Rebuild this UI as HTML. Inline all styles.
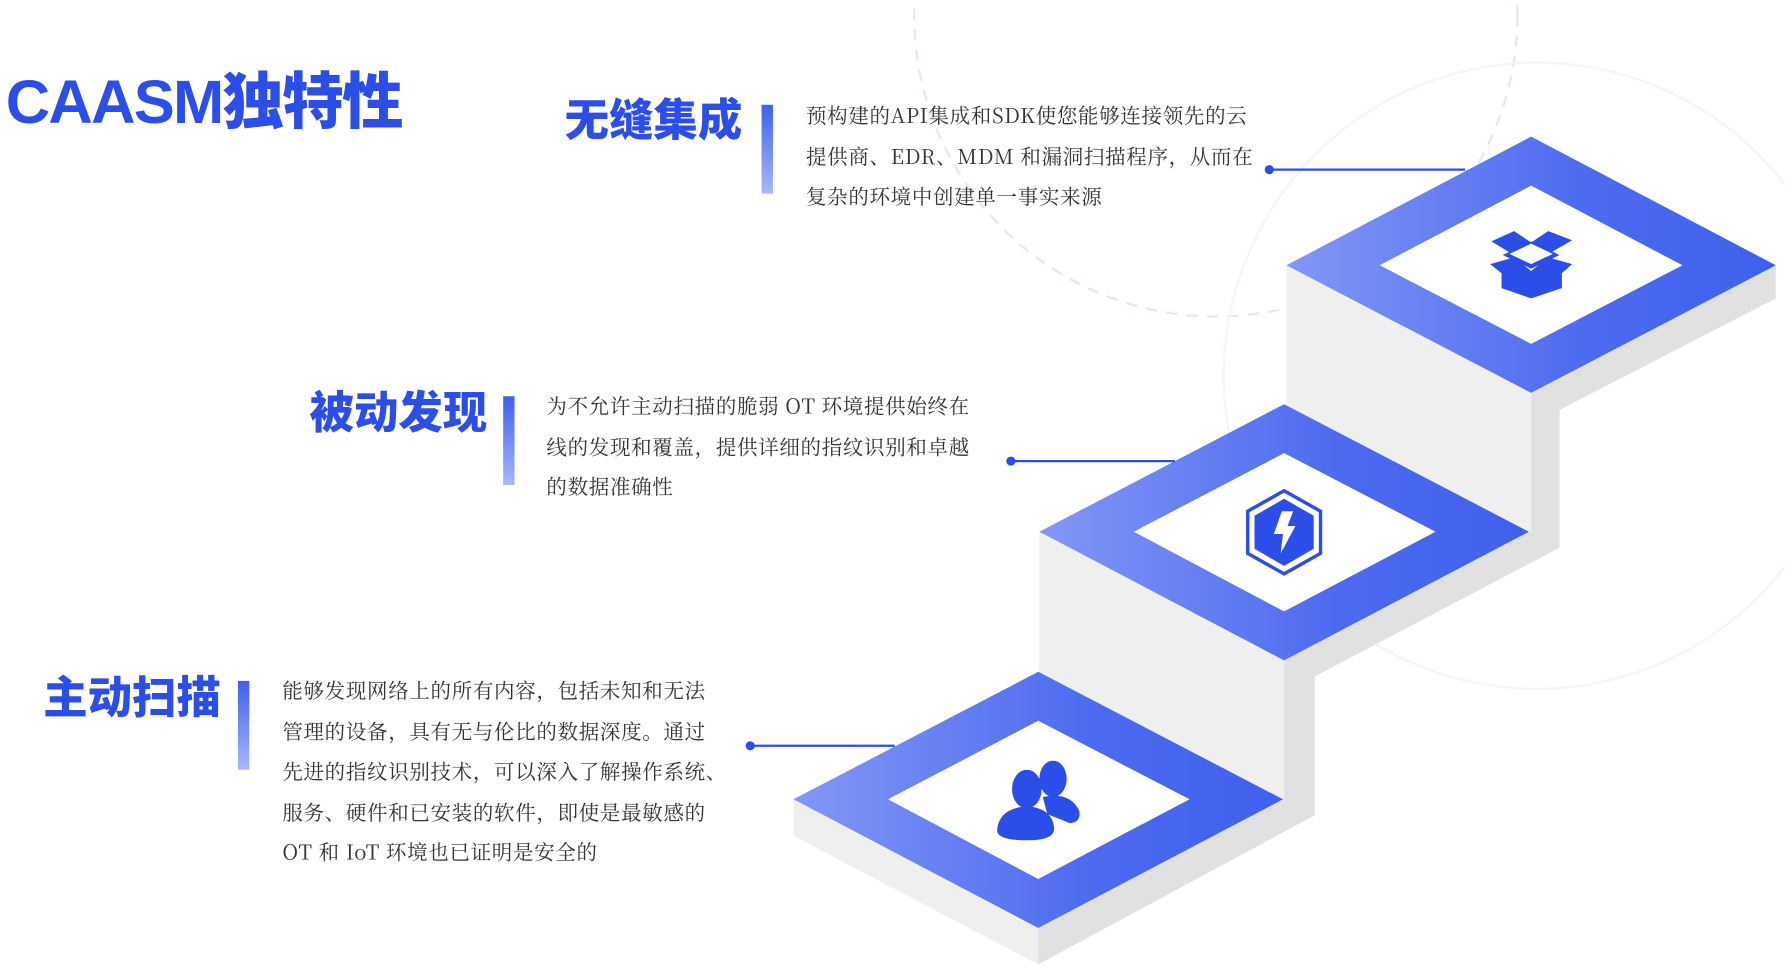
<!DOCTYPE html>
<html><head><meta charset="utf-8"><style>
html,body{margin:0;padding:0;background:#fff;width:1785px;height:969px;overflow:hidden}
#w{position:absolute;left:0;top:0;width:1568px;height:851px;transform:scale(1.13839,1.1386);transform-origin:0 0}
.t{position:absolute;font-family:"Liberation Sans","Noto Sans CJK SC",sans-serif;font-weight:900;color:#2b4de8;white-space:nowrap}
.h{position:absolute;font-family:"Noto Sans CJK SC",sans-serif;font-weight:900;color:#2b4de8;font-size:39px;line-height:46px;white-space:nowrap}
.bar{position:absolute;width:10px;height:78px;background:linear-gradient(#3f5fee,#a9b8f8)}
.p{position:absolute;font-family:"Noto Serif CJK SC","Liberation Serif",serif;font-size:18px;line-height:35.5px;color:#333;white-space:nowrap;letter-spacing:0.6px}
svg{position:absolute;left:0;top:0}
</style></head><body><div id="w">
<svg width="1568" height="851" viewBox="0 0 1568 851">
<defs><linearGradient id="g" x1="0" x2="1" y1="0" y2="0"><stop offset="0" stop-color="#8297f6"/><stop offset="0.6" stop-color="#4d6bef"/><stop offset="1" stop-color="#3f60ee"/></linearGradient></defs>
<circle cx="1068" cy="13" r="265" fill="none" stroke="#e3e6fa" stroke-width="2" stroke-dasharray="10 8"/>
<circle cx="1350" cy="330" r="275" fill="none" stroke="#f3f4fd" stroke-width="2"/>
<line x1="1330" y1="335" x2="1240" y2="430" stroke="#e8ebfa" stroke-width="2" stroke-dasharray="12 10"/>
<polygon points="1130,233 1345,345 1345,494 1130,607" fill="#efefef"/>
<polygon points="1345,345 1560,233 1560,262 1370,360 1370,481 1345,494" fill="#e1e1e1"/>
<polygon points="1345,120 1560,233 1345,345 1130,233" fill="url(#g)"/>
<polygon points="1345,163 1478,233 1345,302 1212,233" fill="#fff"/>
<polygon points="913,467 1128,580 1128,730 913,845" fill="#efefef"/>
<polygon points="1128,580 1343,467 1370,481 1155,594 1155,716 1128,730" fill="#e1e1e1"/>
<polygon points="1128,355 1343,467 1128,580 913,467" fill="url(#g)"/>
<polygon points="1128,398 1261,467 1128,537 996,467" fill="#fff"/>
<polygon points="697,702 912,815 912,847 697,734" fill="#efefef"/>
<polygon points="912,815 1127,702 1155,716 912,847" fill="#e1e1e1"/>
<polygon points="912,590 1127,702 912,815 697,702" fill="url(#g)"/>
<polygon points="912,633 1045,702 912,772 780,702" fill="#fff"/>
<g fill="#2b4de8">
<polygon points="1310,212 1330,203 1345,213 1330,224"/>
<polygon points="1345,213 1360,203 1381,211 1362,222"/>
<polygon points="1320,224 1345,212 1370,224 1345,236"/>
<polygon points="1309,232 1330,226 1345,238 1360,226 1381,232 1372,240 1372,253 1345,262 1319,253 1319,240"/>
</g>
<polygon points="1326,223 1345,214 1364,223 1345,232" fill="#fff"/>
<polygon points="1128,431 1160,449 1160,486 1128,504 1096,486 1096,449" fill="none" stroke="#2b4de8" stroke-width="3"/>
<polygon points="1128,438 1154,453 1154,482 1128,497 1102,482 1102,453" fill="#2b4de8"/>
<polygon points="1126,449 1136,449 1131,462 1138,462 1125,486 1127,469 1119,469" fill="#fff"/>
<g fill="#2b4de8">
<ellipse cx="925" cy="684" rx="12" ry="16"/>
<path d="M916,700 Q940,695 948,712 Q950,722 940,723 L920,715 Z"/>
<ellipse cx="902" cy="693" rx="13" ry="17"/>
<path d="M876,728 Q878,710 902,708 Q925,710 926,728 Q926,738 903,738 Q874,738 876,728 Z"/>
</g>
<line x1="1115" y1="149" x2="1287" y2="149" stroke="#2b4de8" stroke-width="2"/><circle cx="1115" cy="149" r="4" fill="#2b4de8"/>
<line x1="888" y1="405" x2="1032" y2="405" stroke="#2b4de8" stroke-width="2"/><circle cx="888" cy="405" r="4" fill="#2b4de8"/>
<line x1="659" y1="655" x2="786" y2="655" stroke="#2b4de8" stroke-width="2"/><circle cx="659" cy="655" r="4" fill="#2b4de8"/>
</svg>
<div class="t" style="left:5px;top:57px;font-size:54px;line-height:66px;letter-spacing:-1.5px">CAASM独特性</div>
<div class="h" style="left:496px;top:80px">无缝集成</div>
<div class="bar" style="left:669px;top:92px"></div>
<div class="p" style="left:708px;top:84px">预构建的API集成和SDK使您能够连接领先的云<br>提供商、EDR、MDM 和漏洞扫描程序，从而在<br>复杂的环境中创建单一事实来源</div>
<div class="h" style="left:272px;top:337px">被动发现</div>
<div class="bar" style="left:442px;top:348px"></div>
<div class="p" style="left:480px;top:339px">为不允许主动扫描的脆弱 OT 环境提供始终在<br>线的发现和覆盖，提供详细的指纹识别和卓越<br>的数据准确性</div>
<div class="h" style="left:38px;top:587px">主动扫描</div>
<div class="bar" style="left:209px;top:598px"></div>
<div class="p" style="left:248px;top:589px">能够发现网络上的所有内容，包括未知和无法<br>管理的设备，具有无与伦比的数据深度。通过<br>先进的指纹识别技术，可以深入了解操作系统、<br>服务、硬件和已安装的软件，即使是最敏感的<br>OT 和 IoT 环境也已证明是安全的</div>
</div></body></html>
